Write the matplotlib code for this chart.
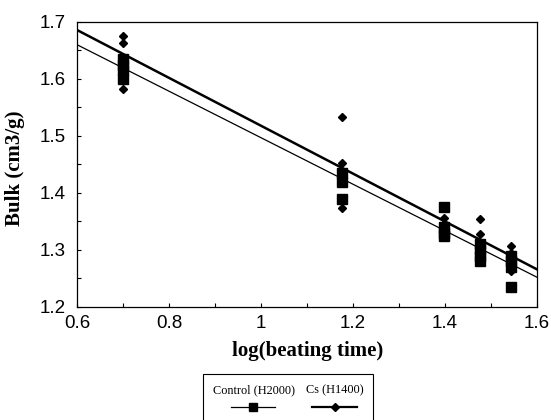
import numpy as np
import matplotlib
matplotlib.use('Agg')
import matplotlib.pyplot as plt
from matplotlib.ticker import MultipleLocator, FormatStrFormatter
from matplotlib.lines import Line2D
from matplotlib.patches import Rectangle

# log(beating time) for each point
control_x = [0.699, 0.699, 0.699, 0.699,
             1.176, 1.176, 1.176,
             1.398, 1.398, 1.398, 1.398,
             1.477, 1.477, 1.477, 1.477,
             1.544, 1.544, 1.544, 1.544]
control_y = [1.635, 1.625, 1.615, 1.60,
             1.435, 1.42, 1.39,
             1.375, 1.34, 1.33, 1.325,
             1.31, 1.30, 1.29, 1.28,
             1.29, 1.28, 1.27, 1.235]
cs_x = [0.699, 0.699, 0.699, 0.699,
        1.176, 1.176, 1.176, 1.176,
        1.398, 1.398, 1.398,
        1.477, 1.477, 1.477,
        1.544, 1.544, 1.544, 1.544]
cs_y = [1.675, 1.663, 1.635, 1.583,
        1.534, 1.453, 1.43, 1.373,
        1.357, 1.345, 1.335,
        1.355, 1.328, 1.30,
        1.307, 1.295, 1.28, 1.263]

# trend lines (slope, intercept)
control_fit = (-0.408, 1.905)
cs_fit = (-0.420, 1.938)

W, H = 551, 420
fig = plt.figure(figsize=(W / 100, H / 100), dpi=100)
ax = fig.add_axes([77 / W, 1 - 307 / H, 460 / W, 285 / H])

xl = np.array([0.6, 1.6])
ax.plot(xl, control_fit[0] * xl + control_fit[1], color='black', linewidth=0.9)
ax.plot(xl, cs_fit[0] * xl + cs_fit[1], color='black', linewidth=1.8)
ax.plot(control_x, control_y, 's', color='black', markersize=7, linestyle='none')
ax.plot(cs_x, cs_y, 'D', color='black', markersize=4.5, linestyle='none')

ax.set_xlim(0.6, 1.6)
ax.set_ylim(1.2, 1.7)
ax.xaxis.set_major_locator(MultipleLocator(0.2))
ax.xaxis.set_minor_locator(MultipleLocator(0.1))
ax.yaxis.set_major_locator(MultipleLocator(0.1))
ax.yaxis.set_minor_locator(MultipleLocator(0.05))
ax.xaxis.set_major_formatter(FormatStrFormatter('%g'))
ax.tick_params(which='both', direction='in', length=3, width=0.8, top=False, right=False)
ax.tick_params(which='major', labelsize=13.5)
ax.tick_params(axis='x', which='major', pad=6)
ax.tick_params(axis='y', which='major', pad=8)
for lab in ax.get_xticklabels() + ax.get_yticklabels():
    lab.set_family('Liberation Sans')
for s in ax.spines.values():
    s.set_linewidth(0.9)

ax.set_xlabel('log(beating time)', family='Liberation Serif', fontweight='bold', fontsize=15)
ax.set_ylabel('Bulk (cm3/g)', family='Liberation Serif', fontweight='bold', fontsize=15)
ax.xaxis.set_label_coords(0.502, -0.119)
ax.yaxis.set_label_coords(-0.112, 0.486)

# legend box below the chart (labels above the handles)
fig.add_artist(Rectangle((203 / W, 1 - 425 / H), 170 / W, 51 / H,
                         transform=fig.transFigure, fill=False, edgecolor='black', linewidth=0.8))
labels = ['Control (H2000)', 'Cs (H1400)']
markers = ['s', 'D']
msizes = [6, 4.5]
widths = [0.9, 1.6]
text_x = [254, 335]
line_x = [(231, 275), (312, 357)]
marker_x = [253, 335]
for lab, m, ms, lw, tx, (x0, x1), mx in zip(labels, markers, msizes, widths, text_x, line_x, marker_x):
    fig.text(tx / W, 1 - 390 / H, lab, family='Liberation Serif', fontsize=8.8,
             ha='center', va='center')
    fig.add_artist(Line2D([x0 / W, x1 / W], [1 - 407 / H, 1 - 407 / H],
                          transform=fig.transFigure, color='black', linewidth=lw))
    fig.add_artist(Line2D([mx / W], [1 - 407 / H], transform=fig.transFigure,
                          color='black', marker=m, markersize=ms, linestyle='none'))

fig.savefig('out.png', dpi=100)
